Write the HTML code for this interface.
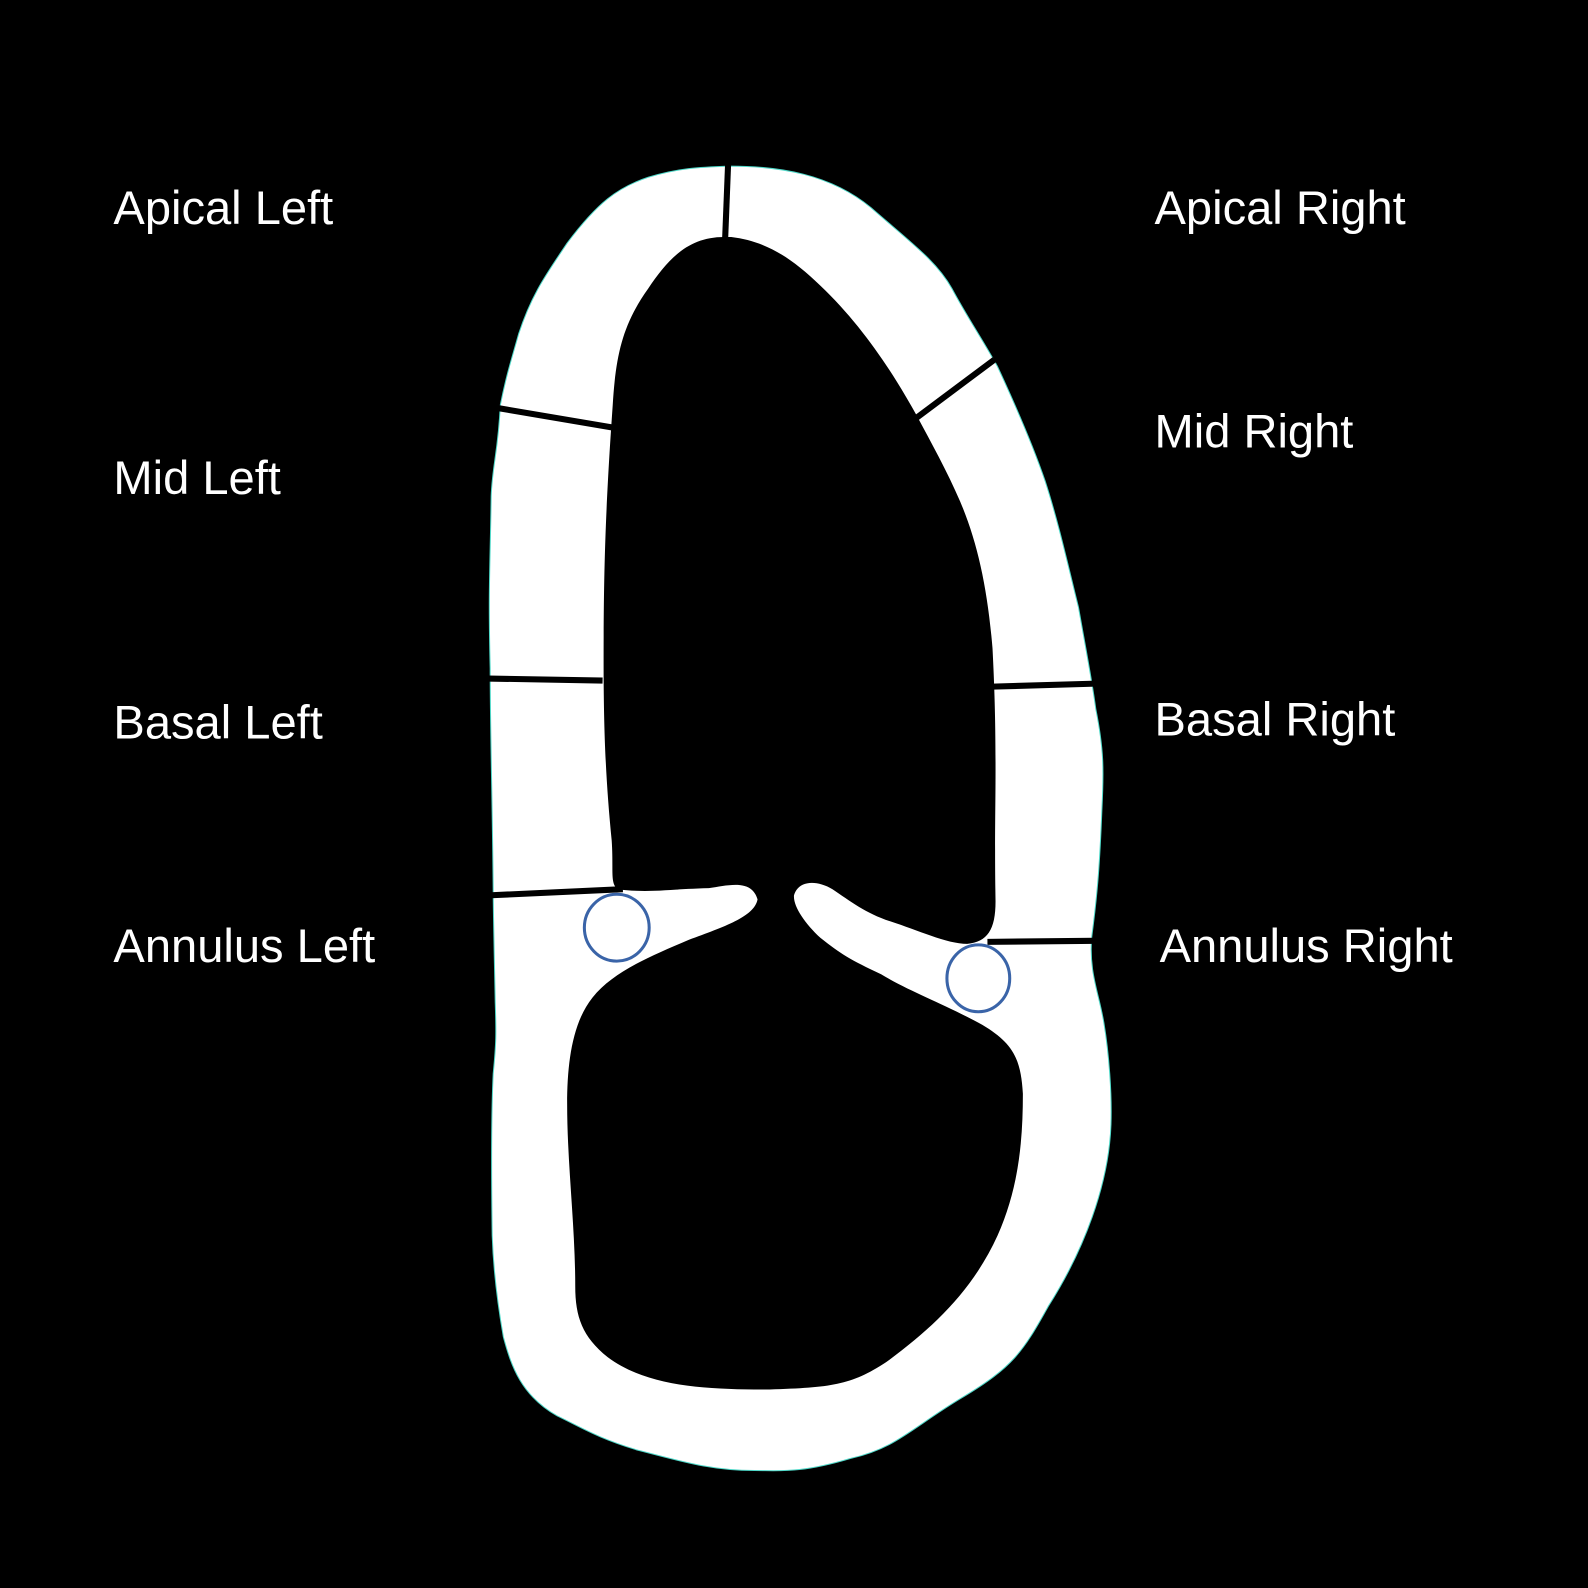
<!DOCTYPE html>
<html><head><meta charset="utf-8"><style>
html,body{margin:0;padding:0;background:#000;width:1588px;height:1588px;overflow:hidden}
svg{display:block}
text{font-family:"Liberation Sans",sans-serif;font-size:46.5px;fill:#fff}
</style></head><body>
<svg width="1588" height="1588" viewBox="0 0 1568 1568">
<rect width="1568" height="1568" fill="#000"/>
<path fill="#fff" stroke="#4fd8c8" stroke-width="1"
d="M720,164 C770,164 820,172 860,205 C900,240 925,258 940,285 C955,313 970,335 985,362 C1005,405 1020,440 1032,475 C1045,515 1055,560 1065,600 C1072,640 1078,670 1082,700 C1090,740 1090,760 1088,800 C1086,850 1084,880 1078,925 C1075,960 1085,980 1090,1010 C1095,1040 1098,1080 1097,1110 C1095,1170 1070,1235 1035,1290 C1010,1335 1000,1350 950,1380 C900,1410 885,1430 840,1440 C790,1455 770,1452 745,1452 C700,1452 670,1442 630,1432 C590,1420 575,1410 550,1398 C515,1378 505,1350 497,1320 C490,1280 487,1250 486,1220 C485,1150 485,1100 487,1060 C490,1030 490,1020 489,990 C488,940 487,900 487,880 C486,780 484,720 484,660 C482,580 484,560 485,490 C486,460 492,445 494,400 C500,370 505,355 512,330 C525,290 540,270 560,240 C590,200 610,185 640,175 C670,166 690,165 720,164 Z"/>
<path fill="#000"
d="M715,234 C680,234 660,255 640,285 C615,320 608,350 605,400 C598,500 596,560 596,650 C596,720 598,770 604,830 C606,860 602,872 610,878 C640,882 660,878 700,877 C720,874 742,868 748,888 C745,905 715,915 680,928 C640,945 605,960 585,985 C565,1010 560,1050 560,1090 C560,1150 568,1210 568,1270 C568,1300 575,1320 600,1340 C640,1370 700,1372 760,1372 C820,1370 840,1368 875,1345 C920,1312 960,1275 985,1220 C1005,1175 1010,1130 1010,1080 C1008,1045 1000,1030 970,1012 C930,990 900,980 870,962 C840,948 830,942 810,926 C795,912 783,895 784,884 C788,870 805,868 822,878 C840,890 855,902 880,910 C905,918 935,932 955,932 C975,930 983,918 983,890 C982,830 983,800 983,760 C983,710 982,680 980,640 C975,580 965,535 948,495 C935,465 920,438 905,410 C880,365 850,320 810,282 C780,253 755,238 722,234 Z"/>
<g stroke="#000" stroke-width="6" fill="none">
<line x1="719" y1="160" x2="716" y2="236"/>
<line x1="492" y1="403" x2="604" y2="422"/>
<line x1="482" y1="670" x2="595" y2="672"/>
<line x1="485" y1="884" x2="615" y2="878"/>
<line x1="982" y1="355" x2="903" y2="414"/>
<line x1="980" y1="678" x2="1082" y2="675"/>
<line x1="975" y1="930" x2="1080" y2="929"/>
</g>
<ellipse cx="609" cy="916" rx="32" ry="33" fill="none" stroke="#3a64a8" stroke-width="3"/>
<ellipse cx="966" cy="966" rx="31" ry="33" fill="none" stroke="#3a64a8" stroke-width="3"/>
<text x="112" y="221">Apical Left</text>
<text x="112" y="488">Mid Left</text>
<text x="112" y="729">Basal Left</text>
<text x="112" y="950">Annulus Left</text>
<text x="1140" y="221">Apical Right</text>
<text x="1140" y="442">Mid Right</text>
<text x="1140" y="726">Basal Right</text>
<text x="1145" y="950">Annulus Right</text>
</svg>
</body></html>
